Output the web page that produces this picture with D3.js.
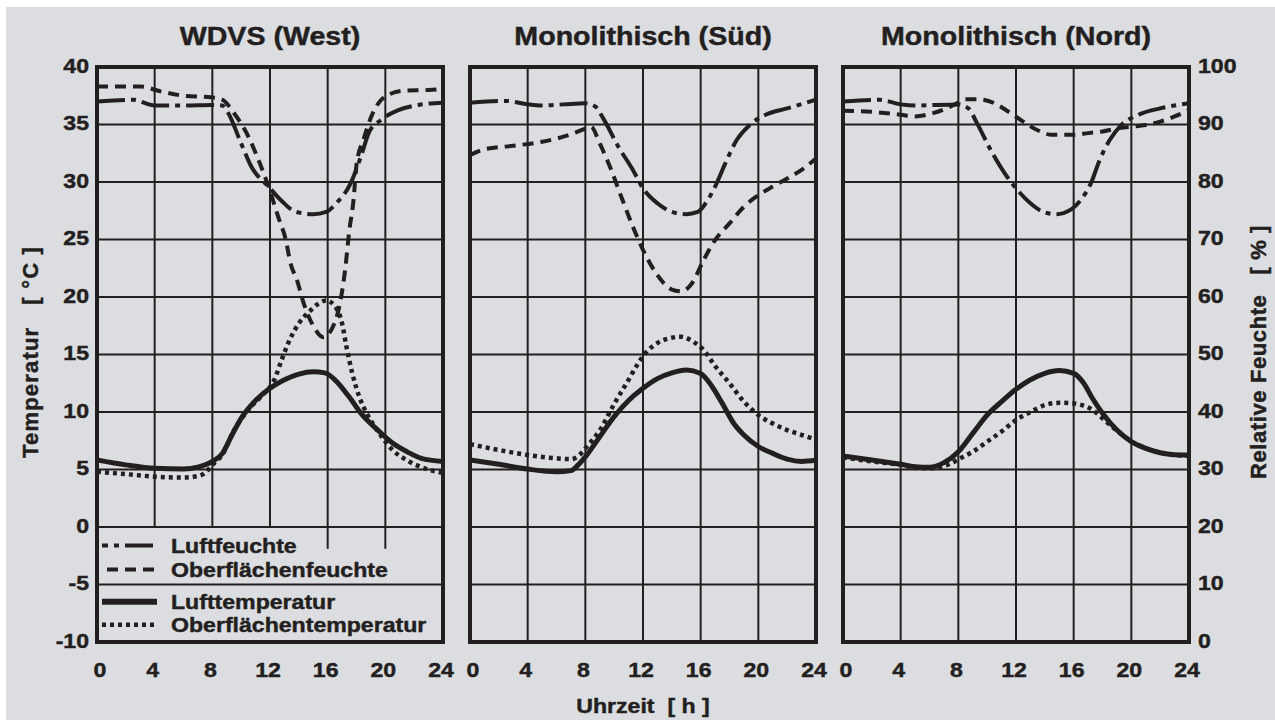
<!DOCTYPE html>
<html>
<head>
<meta charset="utf-8">
<script src="https://cdn.jsdelivr.net/npm/d3@7"></script>
<style>
  html, body { margin: 0; padding: 0; background: #ffffff; }
  svg { display: block; }
  text { font-family: "Liberation Sans", Arial, Helvetica, sans-serif; font-weight: bold; fill: #231f20;
         stroke: #231f20; stroke-width: 0.45px; white-space: pre; }
</style>
</head>
<body>
<svg id="chart" width="1275" height="720"></svg>
<script>
// ---------------- DATA ----------------
const panelTitles = ["WDVS (West)", "Monolithisch (Süd)", "Monolithisch (Nord)"];
const hourTicks = [0, 4, 8, 12, 16, 20, 24];
const tempTicks = [-10, -5, 0, 5, 10, 15, 20, 25, 30, 35, 40];
const humTicks = [0, 10, 20, 30, 40, 50, 60, 70, 80, 90, 100];
const legendLabels = ["Luftfeuchte", "Oberflächenfeuchte", "Lufttemperatur", "Oberflächentemperatur"];

// WDVS (West)
const westLuftfeuchteH = [0, 2.5, 4, 6, 8, 8.7, 9.1, 10, 10.7, 11.9, 12.85, 13.8, 15, 15.9, 16.6, 17.6, 18.3, 18.9, 19.7, 20.9, 22.3, 24];
const westLuftfeuchte = [94.0, 94.3, 93.3, 93.3, 93.4, 93.3, 92.0, 86.7, 82.7, 79.2, 76.6, 74.8, 74.4, 74.8, 76.3, 79.8, 84.4, 88.8, 90.8, 92.5, 93.4, 93.8];
const westOberflFeuchteH = [0, 3, 4.5, 6, 8, 8.7, 9.5, 10.5, 11.3, 11.9, 12.6, 13.1, 13.4, 13.9, 14.3, 15.0, 15.7, 16.3, 16.9, 17.2, 17.5, 17.8, 18.0, 18.5, 19.0, 20.0, 21.4, 23, 24];
const westOberflFeuchte = [96.6, 96.6, 95.7, 95.0, 94.7, 94.3, 92.0, 87.9, 83.2, 79.2, 73.7, 69.9, 66.1, 62.7, 59.2, 55.0, 53.0, 54.5, 59.5, 64.5, 71.5, 77.0, 83.0, 87.5, 91.2, 94.9, 95.9, 96.0, 96.2];
const westLufttempH = [0, 2, 4, 6, 7, 8, 8.7, 9.3, 10, 11, 12, 13, 14, 15, 15.8, 16.5, 17.5, 18.3, 19.5, 20.5, 21.5, 22.5, 24];
const westLufttemp = [5.83, 5.4, 5.1, 5.04, 5.2, 5.7, 6.4, 7.85, 9.45, 11.0, 12.06, 12.8, 13.3, 13.5, 13.4, 12.8, 11.3, 9.9, 8.4, 7.3, 6.55, 5.97, 5.7];
const westOberflTempH = [0, 2, 4, 6, 7, 7.5, 8, 8.7, 9.5, 10.5, 11.5, 12.3, 12.8, 13.3, 14, 14.7, 15.4, 15.9, 16.5, 17, 17.3, 17.7, 18.2, 18.7, 19.5, 20.5, 21.5, 22.5, 24];
const westOberflTemp = [4.8, 4.6, 4.38, 4.3, 4.43, 4.7, 5.4, 6.3, 8.4, 10.2, 11.5, 12.8, 14.5, 16.1, 17.7, 18.7, 19.45, 19.7, 19.2, 17.7, 15.7, 13.4, 11.3, 9.9, 8.3, 6.7, 5.8, 5.2, 4.7];

// Monolithisch (Süd)
const suedLuftfeuchteH = [0, 2.5, 4, 5, 6.5, 8, 8.7, 9.3, 10.3, 11.3, 12, 13, 14, 15, 15.8, 16.5, 17, 17.7, 18.5, 19.4, 20.5, 22, 24];
const suedLuftfeuchte = [93.8, 94.1, 93.5, 93.3, 93.5, 93.7, 93.1, 90.8, 86.1, 82.1, 78.9, 76.3, 74.8, 74.4, 74.8, 76.9, 79.2, 83.2, 87.3, 89.9, 91.7, 92.8, 94.3];
const suedOberflFeuchteH = [0, 1, 3, 5, 7, 8, 8.4, 9, 9.7, 10.5, 11.3, 12, 13, 14, 14.7, 15.4, 16.2, 17, 18, 19, 20, 21, 22, 23, 24];
const suedOberflFeuchte = [84.7, 85.7, 86.3, 87.0, 88.3, 89.3, 89.6, 86.7, 82.7, 77.4, 72.2, 68.2, 63.8, 61.3, 61.0, 62.4, 66.4, 69.9, 72.8, 75.7, 77.7, 79.2, 80.6, 82.1, 84.1];
const suedLufttempH = [0, 2, 4, 6, 7, 7.5, 8, 9, 10, 11, 12, 13, 14, 15, 16, 16.8, 17.5, 18.3, 19, 20, 21, 22, 23, 24];
const suedLufttemp = [5.83, 5.45, 5.04, 4.8, 4.9, 5.4, 6.1, 7.85, 9.6, 11.0, 12.06, 12.9, 13.4, 13.65, 13.35, 12.2, 10.75, 9.0, 8.0, 7.0, 6.4, 5.9, 5.7, 5.8];
const suedOberflTempH = [0, 2, 4, 6, 7, 7.6, 8, 9, 10, 11, 11.6, 12.3, 13, 14, 14.6, 15.5, 16.2, 17, 18, 19, 20, 21, 22, 23, 24];
const suedOberflTemp = [7.2, 6.7, 6.26, 5.97, 5.9, 6.26, 6.84, 8.4, 10.7, 12.8, 14.1, 15.3, 16.0, 16.46, 16.55, 16.1, 15.4, 14.0, 12.5, 10.9, 9.74, 9.0, 8.43, 8.0, 7.6];

// Monolithisch (Nord)
const nordLuftfeuchteH = [0, 2.5, 4, 5, 8, 8.7, 9.3, 10.3, 11.3, 12, 13, 14, 14.8, 15.8, 16.5, 17.2, 17.8, 18.5, 19.3, 20.5, 22, 24];
const nordLuftfeuchte = [94.0, 94.3, 93.5, 93.3, 93.5, 92.8, 90.2, 85.3, 81.2, 78.9, 76.3, 74.7, 74.4, 75.2, 76.9, 79.8, 83.8, 87.3, 89.9, 91.7, 92.8, 93.7];
const nordOberflFeuchteH = [0, 2, 4, 5, 6, 7, 8, 8.5, 9.3, 10.5, 11.5, 12.5, 13.5, 14.5, 16, 17, 18, 19, 20, 21, 22, 23, 24];
const nordOberflFeuchte = [92.4, 92.2, 91.7, 91.4, 91.8, 92.6, 93.8, 94.4, 94.4, 93.7, 92.2, 90.5, 89.0, 88.2, 88.2, 88.5, 88.8, 89.3, 89.6, 89.9, 90.5, 91.4, 92.5];
const nordLufttempH = [0, 2, 4, 5, 6, 7, 8, 9, 10, 11, 12, 13, 14, 15, 16, 16.7, 17.3, 18, 19, 20, 21, 22, 23, 24];
const nordLufttemp = [6.17, 5.83, 5.45, 5.25, 5.2, 5.6, 6.55, 8.14, 9.74, 10.9, 11.97, 12.8, 13.36, 13.6, 13.36, 12.5, 11.2, 9.9, 8.43, 7.42, 6.84, 6.46, 6.29, 6.26];
const nordOberflTempH = [0, 2, 4, 5, 6, 7, 7.5, 8, 9, 10, 11, 12, 13, 14, 15, 16, 16.8, 17.3, 18, 19, 20, 21, 22, 23, 24];
const nordOberflTemp = [6.06, 5.7, 5.4, 5.16, 5.1, 5.3, 5.54, 5.88, 6.55, 7.42, 8.3, 9.3, 10.0, 10.6, 10.8, 10.75, 10.5, 10.2, 9.45, 8.37, 7.45, 6.85, 6.45, 6.25, 6.2];

// ---------------- STYLE ----------------
const INK = "#231f20";
const BG = "#dcdde0";
const STRETCH = 1.1;
const styles = [
  { dash: "28,6,5,6", width: 4 },   // Luftfeuchte
  { dash: "11,7", width: 4 },       // Oberflächenfeuchte
  { dash: null, width: 5 },         // Lufttemperatur
  { dash: "4,4", width: 4.5 }       // Oberflächentemperatur
];

const panelsData = [
  [[westLuftfeuchteH, westLuftfeuchte, "H"], [westOberflFeuchteH, westOberflFeuchte, "H"], [westLufttempH, westLufttemp, "T"], [westOberflTempH, westOberflTemp, "T"]],
  [[suedLuftfeuchteH, suedLuftfeuchte, "H"], [suedOberflFeuchteH, suedOberflFeuchte, "H"], [suedLufttempH, suedLufttemp, "T"], [suedOberflTempH, suedOberflTemp, "T"]],
  [[nordLuftfeuchteH, nordLuftfeuchte, "H"], [nordOberflFeuchteH, nordOberflFeuchte, "H"], [nordLufttempH, nordLufttemp, "T"], [nordOberflTempH, nordOberflTemp, "T"]]
];

// ---------------- LAYOUT ----------------
const svg = d3.select("#chart");
svg.append("rect").attr("x", 6).attr("y", 7).attr("width", 1269).attr("height", 713).attr("fill", BG);

const plotTop = 67, plotBottom = 642, panelW = 346, firstLeft = 97, panelStep = 373;
const yT = d3.scaleLinear().domain([-10, 40]).range([plotBottom, plotTop]);
const yH = d3.scaleLinear().domain([0, 100]).range([plotBottom, plotTop]);

function stretchedText(g, x, y, str, size, anchor, rot, sx) {
  return g.append("text")
    .attr("transform", `translate(${x},${y})` + (rot ? ` rotate(${rot})` : "") + ` scale(${sx || STRETCH},1)`)
    .attr("text-anchor", anchor)
    .attr("font-size", size)
    .attr("xml:space", "preserve")
    .text(str);
}

const defs = svg.append("defs");

panelTitles.forEach((title, i) => {
  const left = firstLeft + i * panelStep;
  const x = d3.scaleLinear().domain([0, 24]).range([left, left + panelW]);
  const g = svg.append("g");

  // vertical grid
  g.selectAll(".vg").data(hourTicks.slice(1, -1)).join("line")
    .attr("x1", d => x(d)).attr("x2", d => x(d)).attr("y1", plotTop).attr("y2", plotBottom)
    .attr("stroke", INK).attr("stroke-width", 2);

  // legend background in first panel (covers grid below 0 °C)
  if (i === 0) {
    g.append("rect").attr("x", x(0)).attr("y", yT(0)).attr("width", panelW).attr("height", yT(-10) - yT(0))
      .attr("fill", BG);
    g.selectAll(".stub").data([16, 20]).join("line")
      .attr("x1", d => x(d)).attr("x2", d => x(d)).attr("y1", yT(0)).attr("y2", yT(-1.9))
      .attr("stroke", INK).attr("stroke-width", 2);
  }

  // horizontal grid
  g.selectAll(".hg").data(tempTicks.slice(1, -1)).join("line")
    .attr("x1", left).attr("x2", left + panelW).attr("y1", d => yT(d)).attr("y2", d => yT(d))
    .attr("stroke", INK).attr("stroke-width", 2);

  // clip
  defs.append("clipPath").attr("id", "clip" + i).append("rect")
    .attr("x", left).attr("y", plotTop).attr("width", panelW).attr("height", plotBottom - plotTop);

  // curves
  const curvesG = g.append("g").attr("clip-path", `url(#clip${i})`);
  panelsData[i].forEach((s, k) => {
    const [hs, vs, kind] = s;
    const ys = kind === "H" ? yH : yT;
    const pts = hs.map((h, j) => [x(h), ys(vs[j])]);
    const line = d3.line().curve(d3.curveMonotoneX);
    curvesG.append("path").attr("d", line(pts))
      .attr("fill", "none").attr("stroke", INK)
      .attr("stroke-width", styles[k].width)
      .attr("stroke-dasharray", styles[k].dash)
      .attr("stroke-linecap", "butt").attr("stroke-linejoin", "round");
  });

  // border
  g.append("rect").attr("x", left).attr("y", plotTop).attr("width", panelW).attr("height", plotBottom - plotTop)
    .attr("fill", "none").attr("stroke", INK).attr("stroke-width", 4);

  // title
  stretchedText(svg, left + panelW / 2, 45, title, 26, "middle");

  // x tick labels
  hourTicks.forEach(h => {
    const dx = h === 0 ? 3 : -2;
    stretchedText(svg, x(h) + dx, 677, String(h), 21, "middle");
  });

  if (i === 0) {
    tempTicks.forEach(t => stretchedText(svg, left - 8, yT(t) + 5.5, String(t), 21, "end"));
    // legend
    const lx0 = x(0) + 5, lx1 = x(0) + 60, tx = x(0) + 74;
    const ly = [yT(-1.6), yT(-3.7), yT(-6.5), yT(-8.5)];
    legendLabels.forEach((lab, k) => {
      svg.append("line")
        .attr("x1", k === 1 ? lx0 + 5 : lx0).attr("x2", lx1).attr("y1", ly[k]).attr("y2", ly[k])
        .attr("stroke", INK).attr("stroke-width", styles[k].width + (k === 2 ? 1 : 0))
        .attr("stroke-dasharray", styles[k].dash)
        .attr("stroke-dashoffset", k === 0 ? 22 : 0);
      stretchedText(svg, tx, ly[k] + 7.5, lab, 21, "start");
    });
  }
  if (i === 2) {
    humTicks.forEach(v => stretchedText(svg, left + panelW + 9, yH(v) + 5.5, String(v), 21, "start"));
  }
});

// axis titles
stretchedText(svg, 643, 713, "Uhrzeit  [ h ]", 21, "middle");
stretchedText(svg, 38, 352, "Temperatur   [ °C ]", 22, "middle", -90, 1.0)
  .attr("letter-spacing", 1.2);
stretchedText(svg, 1266, 352, "Relative Feuchte   [ % ]", 22, "middle", -90, 1.0)
  .attr("letter-spacing", 0.6);
</script>
</body>
</html>
